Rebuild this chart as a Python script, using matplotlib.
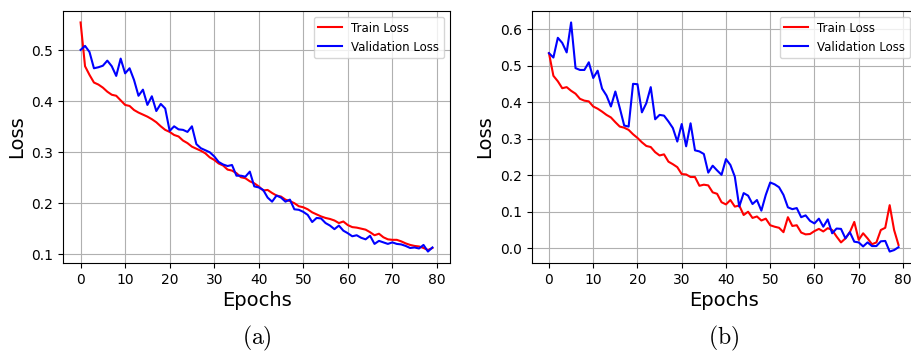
import numpy as np
import matplotlib
matplotlib.use('Agg')
import matplotlib.pyplot as plt

plt.rcParams['mathtext.fontset'] = 'cm'

epochs = list(range(80))

# (a) losses
train_a = [0.555, 0.469, 0.452, 0.437, 0.433, 0.427, 0.419, 0.413, 0.411, 0.402,
           0.393, 0.391, 0.383, 0.378, 0.374, 0.370, 0.365, 0.359, 0.351, 0.344,
           0.340, 0.334, 0.331, 0.323, 0.318, 0.311, 0.307, 0.303, 0.298, 0.290,
           0.285, 0.278, 0.274, 0.266, 0.264, 0.259, 0.251, 0.249, 0.243, 0.239,
           0.233, 0.225, 0.226, 0.220, 0.215, 0.213, 0.207, 0.204, 0.200, 0.194,
           0.192, 0.188, 0.182, 0.178, 0.174, 0.171, 0.169, 0.166, 0.161, 0.164,
           0.157, 0.153, 0.152, 0.150, 0.148, 0.143, 0.137, 0.140, 0.133, 0.129,
           0.128, 0.128, 0.125, 0.121, 0.118, 0.116, 0.115, 0.112, 0.108, 0.112]
val_a = [0.501, 0.509, 0.497, 0.465, 0.467, 0.470, 0.480, 0.469, 0.450, 0.484,
         0.455, 0.465, 0.442, 0.411, 0.423, 0.393, 0.410, 0.381, 0.395, 0.386,
         0.342, 0.351, 0.345, 0.344, 0.340, 0.351, 0.316, 0.308, 0.304, 0.300,
         0.292, 0.281, 0.276, 0.273, 0.275, 0.254, 0.254, 0.252, 0.262, 0.233,
         0.231, 0.226, 0.211, 0.203, 0.215, 0.211, 0.203, 0.207, 0.188, 0.187,
         0.183, 0.177, 0.163, 0.171, 0.170, 0.161, 0.156, 0.149, 0.156, 0.146,
         0.141, 0.135, 0.137, 0.132, 0.129, 0.136, 0.120, 0.126, 0.123, 0.120,
         0.123, 0.120, 0.119, 0.116, 0.112, 0.113, 0.111, 0.118, 0.105, 0.113]

# (b)
train_b = [0.534, 0.472, 0.457, 0.438, 0.441, 0.431, 0.423, 0.409, 0.404, 0.402,
           0.388, 0.382, 0.374, 0.365, 0.358, 0.345, 0.333, 0.330, 0.324, 0.312,
           0.302, 0.290, 0.280, 0.277, 0.263, 0.254, 0.257, 0.237, 0.230, 0.222,
           0.203, 0.202, 0.195, 0.195, 0.171, 0.174, 0.172, 0.153, 0.149, 0.126,
           0.120, 0.132, 0.114, 0.117, 0.091, 0.100, 0.083, 0.087, 0.076, 0.081,
           0.063, 0.059, 0.056, 0.044, 0.085, 0.061, 0.063, 0.043, 0.038, 0.039,
           0.047, 0.053, 0.046, 0.055, 0.050, 0.032, 0.016, 0.027, 0.044, 0.072,
           0.023, 0.041, 0.027, 0.011, 0.016, 0.050, 0.056, 0.118, 0.050, 0.009]
val_b = [0.534, 0.522, 0.576, 0.562, 0.536, 0.618, 0.493, 0.488, 0.488, 0.509,
         0.466, 0.486, 0.437, 0.418, 0.388, 0.429, 0.384, 0.336, 0.333, 0.450,
         0.449, 0.372, 0.397, 0.441, 0.353, 0.365, 0.363, 0.347, 0.329, 0.292,
         0.340, 0.279, 0.342, 0.268, 0.265, 0.258, 0.207, 0.226, 0.213, 0.201,
         0.244, 0.228, 0.196, 0.114, 0.151, 0.144, 0.121, 0.132, 0.103, 0.146,
         0.180, 0.175, 0.167, 0.146, 0.112, 0.107, 0.110, 0.085, 0.090, 0.075,
         0.068, 0.081, 0.059, 0.079, 0.041, 0.054, 0.053, 0.027, 0.044, 0.018,
         0.016, 0.005, 0.016, 0.006, 0.006, 0.019, 0.020, -0.009, -0.005, 0.003]

captions = ['(a)', '(b)']

W, H = 911, 354
fig = plt.figure(figsize=(W / 100, H / 100), dpi=100)

# axes boxes in pixels: left, top, right, bottom (right plot runs past the edge)
boxes = [(63, 11, 450, 263), (531.5, 11, 916, 263)]

for box, (tr, va), cap in zip(boxes, [(train_a, val_a), (train_b, val_b)], captions):
    l, t, r, b = box
    ax = fig.add_axes([l / W, (H - b) / H, (r - l) / W, (b - t) / H])
    ax.plot(epochs, tr, color='r', label='Train Loss')
    ax.plot(epochs, va, color='b', label='Validation Loss')
    ax.set_xlabel('Epochs', fontsize=14, labelpad=3)
    ax.set_ylabel('Loss', fontsize=14)
    ax.tick_params(labelsize=10)
    ax.grid(True)
    ax.legend(fontsize=8.5, loc='upper right')
    fig.text(((l + r) / 2) / W, (H - 338) / H, r'$\mathrm{' + cap + '}$',
             ha='center', va='center', fontsize=17)

fig.savefig('out.png', dpi=100)
